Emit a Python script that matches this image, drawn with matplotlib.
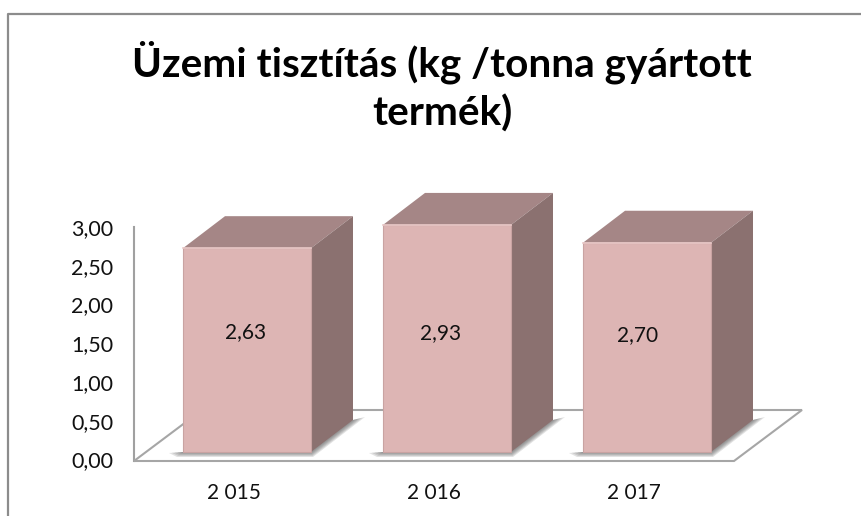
import numpy as np
import matplotlib
matplotlib.use("Agg")
import matplotlib.pyplot as plt
from matplotlib.lines import Line2D

years = ["2 015", "2 016", "2 017"]
values = [2.63, 2.93, 2.70]
value_labels = ["2,63", "2,93", "2,70"]
yticks = [0, 0.5, 1, 1.5, 2, 2.5, 3]
ytick_labels = ["0,00", "0,50", "1,00", "1,50", "2,00", "2,50", "3,00"]

W, H = 862, 516
plt.rcParams['font.family'] = ['Lato', 'DejaVu Sans']

fig = plt.figure(figsize=(W/100, H/100), dpi=100)

# pixels -> figure fraction
def box(x0, ytop, x1, ybot):
    return [x0/W, 1-ybot/H, (x1-x0)/W, (ybot-ytop)/H]

# outer chart frame
frame_col = "#8c8c8c"
fig.add_artist(Line2D([8/W, 8/W, 1], [0, 1-14/H, 1-14/H], color=frame_col, lw=1.6))

# wall axes, carries ticks
ax = fig.add_axes(box(134, 227, 734, 461))
ax.set_xlim(-0.5, 2.5)
ax.set_ylim(-1.5/77, 3)
ax.patch.set_alpha(0)
for s in ["top", "right", "bottom"]:
    ax.spines[s].set_visible(False)
ax.spines["left"].set_color("#a0a0a0")
ax.spines["left"].set_linewidth(1.5)
ax.set_xticks(range(len(years)))
ax.set_xticklabels(years, fontsize=15, color="#111111")
ax.set_yticks(yticks)
ax.set_yticklabels(ytick_labels, fontsize=15.5, color="#111111")
ax.tick_params(length=0)
ax.tick_params(axis="x", pad=16)
ax.tick_params(axis="y", pad=15)

# bar axes, same box, own scale (bars stand in the middle of the floor)
bx = fig.add_axes(box(134, 227, 734, 461))
px_x = 200.0
px_y = 77.5
bx.set_xlim((134-247)/px_x, (734-247)/px_x)
bx.set_ylim((452-461)/px_y, (452-227)/px_y)
bx.axis("off")

bar_w = 128/px_x
dep_x = 42/px_x
dep_y = 32/px_y

# floor
fx0, fx1 = bx.get_xlim()
fy = bx.get_ylim()[0]
floor_x = [fx0, fx1, fx1+68/px_x, fx0+68/px_x, fx0]
floor_y = [fy, fy, fy+51/px_y, fy+51/px_y, fy]
bx.fill(floor_x, floor_y, facecolor="white", edgecolor="#a6a6a6", lw=1.5, clip_on=False, zorder=1)

front_col = "#ddb5b4"
top_col = "#a58686"
side_col = "#8b7170"

for i, v in enumerate(values):
    l = i - bar_w/2
    r = i + bar_w/2
    # soft shadow on the floor, stacked so it fades outwards
    for k in [1.0, 0.8, 0.6, 0.4, 0.2]:
        sx = [l, l-14*k/px_x, l-6*k/px_x, r+2*k/px_x, r+dep_x+12*k/px_x, r+dep_x]
        sy = [0, -1*k/px_y, -5*k/px_y, -5*k/px_y, dep_y+3*k/px_y, dep_y]
        bx.fill(sx, sy, facecolor="#555555", alpha=0.17, lw=0, clip_on=False, zorder=2)
    bx.bar(i, v, width=bar_w, color=front_col, edgecolor="#c9a3a2", lw=0.8, clip_on=False, zorder=4)
    bx.fill([l, r, r+dep_x, l+dep_x], [v, v, v+dep_y, v+dep_y], facecolor=top_col, lw=0, clip_on=False, zorder=3)
    bx.fill([r, r+dep_x, r+dep_x, r], [0, dep_y, v+dep_y, v], facecolor=side_col, lw=0, clip_on=False, zorder=3)
    bx.plot([l, r], [v, v], color="#e9c8c7", lw=1.2, clip_on=False, zorder=5)

# value labels sit where they were dragged to by hand in the original
label_dx = [-1/px_x, -6/px_x, -9/px_x]
label_y = [(452-332)/px_y, (452-333)/px_y, (452-335)/px_y]
for i, t in enumerate(value_labels):
    bx.text(i+label_dx[i], label_y[i], t, ha="center", va="center", fontsize=15, color="#111111", zorder=6)

fig.text(442/W, 1-62/H, "Üzemi tisztítás (kg /tonna gyártott", ha="center", va="center",
         fontsize=29.2, fontweight="bold", color="black")
fig.text(442/W, 1-114/H, "termék)", ha="center", va="center",
         fontsize=29.2, fontweight="bold", color="black")

fig.savefig("out.png", dpi=100)
